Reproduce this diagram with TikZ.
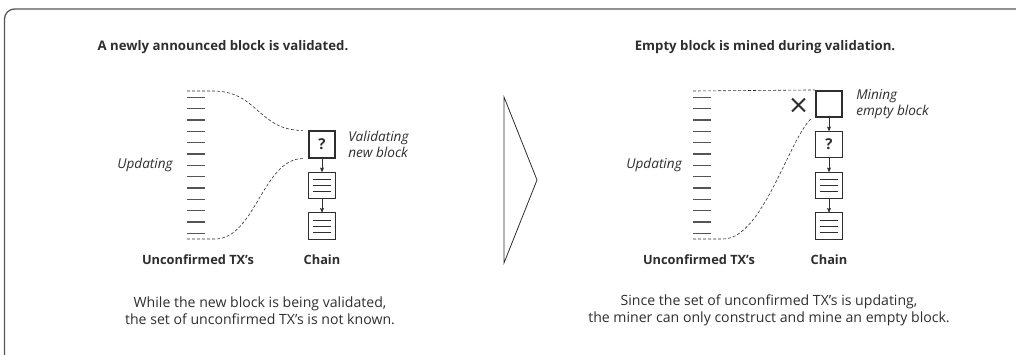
\documentclass[tikz,border=0pt]{standalone}
\usepackage{fontspec}
\setmainfont{Open Sans}
\usepackage{xcolor}
\usepackage{tikz}
\usetikzlibrary{positioning}
\usetikzlibrary{arrows}
\usetikzlibrary{shapes.misc}

\definecolor{ink}{HTML}{2E2E2E}
\definecolor{rule}{HTML}{555555}

\begin{document}
\begin{tikzpicture}
  [ x=1pt, y=-1pt,
    every node/.style={text=ink, inner sep=0pt},
    heading/.style={font=\fontsize{13.2}{15}\selectfont\bfseries},
    caption/.style={font=\fontsize{12.8}{14}\selectfont\bfseries},
    remark/.style={font=\fontsize{14.1}{17}\selectfont, align=center},
    tag/.style={font=\fontsize{13.6}{16}\selectfont\itshape, align=left},
    blockbox/.style={draw=ink, minimum size=26.5pt},
    newblock/.style={blockbox, line width=1.6pt,
      font=\fontsize{15}{16}\selectfont\bfseries},
    txblock/.style={blockbox, line width=0.8pt,
      path picture={\foreach \k in {-6,0,6}
        \draw [ink, line width=0.8pt]
          ([xshift=-9pt, yshift=\k pt]path picture bounding box.center) -- ++(18pt,0pt);}},
    link/.style={draw=ink, line width=0.6pt, ->, >=stealth'},
    pending/.style={draw=ink, line width=0.6pt, dash pattern=on 3pt off 2pt},
    txline/.style={draw=rule, line width=1.4pt}
  ]

  \useasboundingbox (0,0) rectangle (1016,354);
  \draw [rule, line width=1.3pt, rounded corners=10pt] (4.5,9) rectangle (1030,370);

  % left: validating
  \node (lhead) at (223,47) [heading] {A newly announced block is validated.};

  \foreach \i in {0,...,12}
    \draw [txline] (187, 97.3+\i*11.33) -- ++(18,0);
  \coordinate (ltop) at (187,91);
  \coordinate (lbot) at (187,239);
  \coordinate (lmid) at (187,165);

  \node (lq)  at (322,144.5) [newblock] {?};
  \node (lb1) at (322,185.5) [txblock] {};
  \node (lb2) at (322,226)   [txblock] {};

  \draw [link] (lq) -- (lb1);
  \draw [link] (lb1) -- (lb2);

  \draw [pending] (ltop) -- ++(26,0) .. controls +(45,0) and +(-45,0) .. ([xshift=-5pt]lq.north west);
  \draw [pending] (lbot) -- ++(28,0) .. controls +(40,0) and +(-40,0) .. ([xshift=-5pt]lq.south west);

  \node (lupd)  [tag, left=14pt of lmid] {Updating};
  \node (lval)  [tag, right=12pt of lq] {Validating\\new block};
  \node (lpool) at (198,260) [caption] {Unconfirmed TX’s};
  \node (lchain) at (322,260) [caption] {Chain};
  \node (lnote) at (260,310.5) [remark]
    {While the new block is being validated,\\the set of unconfirmed TX’s is not known.};

  \draw [ink, line width=0.8pt] (504,97) -- (537,180) -- (504,263) -- cycle;

  % right: mining an empty block
  \node (rhead) at (765,47) [heading] {Empty block is mined during validation.};

  \foreach \i in {0,...,12}
    \draw [txline] (693, 97.3+\i*11.33) -- ++(18,0);
  \coordinate (rtop) at (693,91);
  \coordinate (rbot) at (693,239);
  \coordinate (rmid) at (693,165);

  \node (rm)  at (829,104)   [newblock] {};
  \node (rq)  at (829,144.5) [blockbox, line width=0.8pt,
    font=\fontsize{15}{16}\selectfont\bfseries] {?};
  \node (rb1) at (829,185.5) [txblock] {};
  \node (rb2) at (829,226)   [txblock] {};

  \draw [link] (rm) -- (rq);
  \draw [link] (rq) -- (rb1);
  \draw [link] (rb1) -- (rb2);

  \draw [pending] (rtop) -- (rm.north west);
  \draw [pending] (rbot) -- ++(30,0) .. controls +(40,0) and +(-22,18) .. ([xshift=-3pt]rm.south west);

  \node (rno) at (798.5,105) [cross out, draw=ink, line width=1.8pt, minimum size=11pt] {};

  \node (rupd)  [tag, left=11pt of rmid] {Updating};
  \node (rmine) [tag, right=13pt of rm] {Mining\\empty block};
  \node (rpool) at (699,260) [caption] {Unconfirmed TX’s};
  \node (rchain) at (829,260) [caption] {Chain};
  \node (rnote) at (769,310.5) [remark]
    {Since the set of unconfirmed TX’s is updating,\\the miner can only construct and mine an empty block.};
\end{tikzpicture}
\end{document}
